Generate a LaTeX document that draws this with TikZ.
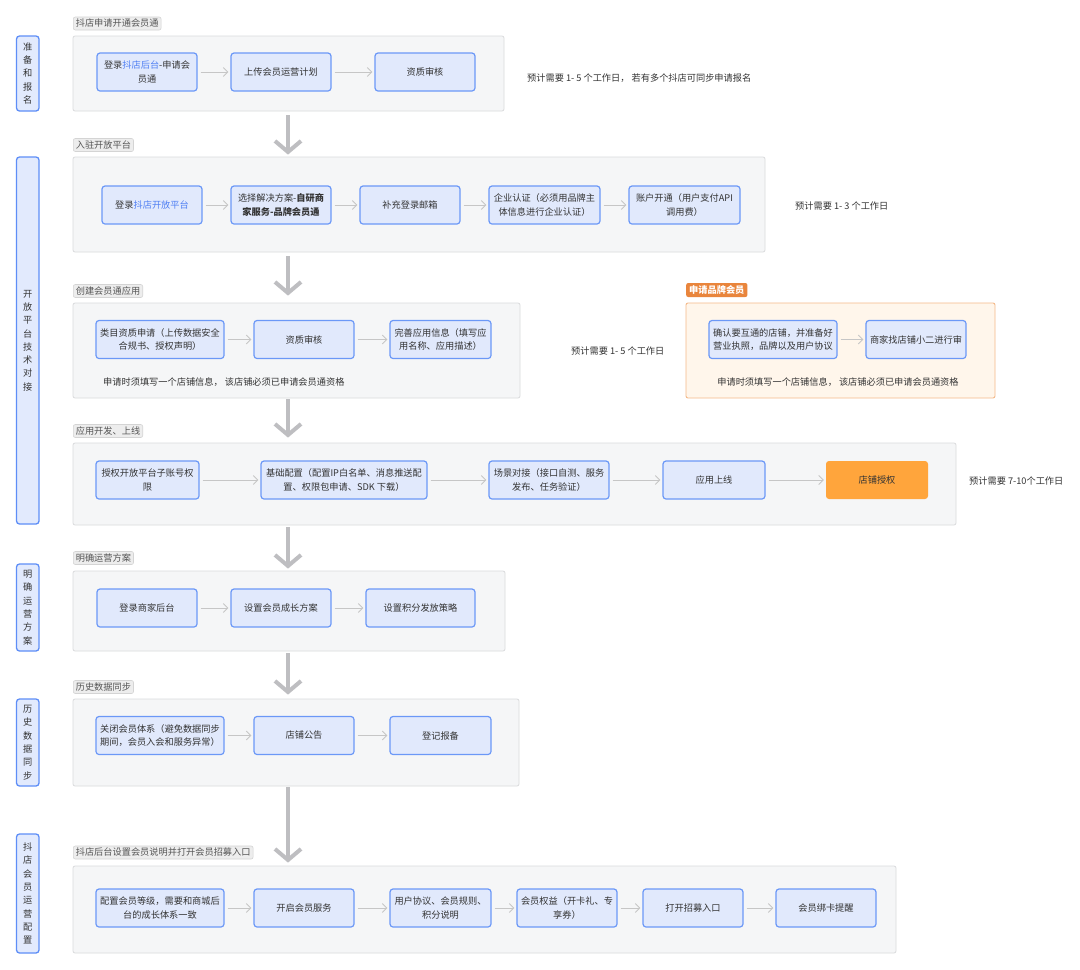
\documentclass[tikz,border=0pt]{standalone}
\usepackage{fontspec}
\setmainfont{Noto Sans CJK SC}
\usetikzlibrary{arrows.meta,calc}
\definecolor{lanefill}{HTML}{E2EAFD}
\definecolor{laneborder}{HTML}{5E8EF7}
\definecolor{ndfill}{HTML}{E1E9FC}
\definecolor{ndborder}{HTML}{6B98F7}
\definecolor{contfill}{HTML}{F5F6F7}
\definecolor{contborder}{HTML}{DADBDD}
\definecolor{tagfill}{HTML}{EDEDED}
\definecolor{tagborder}{HTML}{D4D4D4}
\definecolor{tagtext}{HTML}{555555}
\definecolor{txt}{HTML}{333333}
\definecolor{bluetxt}{HTML}{4F7FF3}
\definecolor{smallarr}{HTML}{C6C6C6}
\definecolor{bigarrc}{HTML}{BEBEC1}
\definecolor{otag}{HTML}{E9853C}
\definecolor{ocfill}{HTML}{FFF6EB}
\definecolor{ocborder}{HTML}{F4BA8A}
\definecolor{onode}{HTML}{FFA53C}
\begin{document}
\begin{tikzpicture}[x=1pt,y=-1pt,
  every node/.style={font=\fontsize{9.2}{13.3}\selectfont, text=txt},
  lanebox/.style={draw=laneborder, fill=lanefill, rounded corners=3pt, line width=1.3pt, minimum width=22.5pt, align=center, inner sep=0pt},
  nd/.style={draw=ndborder, fill=ndfill, rounded corners=3pt, line width=1.2pt, minimum height=38pt, align=center, inner sep=1pt},
  ond/.style={fill=onode, rounded corners=3pt, minimum height=38pt, align=center, inner sep=1pt},
  cont/.style={draw=contborder, fill=contfill, rounded corners=2pt, line width=0.8pt, inner sep=0pt},
  ocont/.style={draw=ocborder, fill=ocfill, rounded corners=2pt, line width=0.9pt, inner sep=0pt},
  tag/.style={draw=tagborder, fill=tagfill, rounded corners=2pt, line width=0.6pt, text=tagtext, inner xsep=2.5pt, inner ysep=0pt, minimum height=13pt, anchor=west},
  otagst/.style={fill=otag, rounded corners=2pt, text=white, inner xsep=3pt, inner ysep=0pt, minimum height=14pt, anchor=west, font=\fontsize{9.2}{13.3}\selectfont\bfseries},
  note/.style={text=txt, inner sep=0pt},
  arr/.style={draw=smallarr, line width=0.9pt, -{Straight Barb[length=4.5pt,width=9pt]}, shorten <=3pt, shorten >=2pt},
  bigarr/.style={draw=bigarrc, line width=4pt, -{Straight Barb[length=11pt,width=26pt]}}
]
\useasboundingbox[fill=white] (0,0) rectangle (1080,970);
\coordinate (ax) at (288,0);

% lanes
\node[lanebox, minimum height=75pt] (L1) at (27.75,73.5) {准\\备\\和\\报\\名};
\node[lanebox, minimum height=367pt] (L2) at (27.75,340.5) {开\\放\\平\\台\\技\\术\\对\\接};
\node[lanebox, minimum height=87pt] (L3) at (27.75,607.5) {明\\确\\运\\营\\方\\案};
\node[lanebox, minimum height=87pt] (L4) at (27.75,742.5) {历\\史\\数\\据\\同\\步};
\node[lanebox, minimum height=119pt] (L5) at (27.75,893.5) {抖\\店\\会\\员\\运\\营\\配\\置};

% containers
\node[cont, minimum width=431pt, minimum height=75pt] (c1) at (288.5,73.5) {};
\node[cont, minimum width=692pt, minimum height=95pt] (c2) at (419,204.5) {};
\node[cont, minimum width=447pt, minimum height=95pt] (c3) at (296.5,350.5) {};
\node[ocont, minimum width=309pt, minimum height=95pt] (oc) at (840.5,350.5) {};
\node[cont, minimum width=883pt, minimum height=82pt] (c4) at (514.5,484) {};
\node[cont, minimum width=432pt, minimum height=80pt] (c5) at (289,611) {};
\node[cont, minimum width=446pt, minimum height=87pt] (c6) at (296,742.5) {};
\node[cont, minimum width=823pt, minimum height=87pt] (c7) at (484.5,909.5) {};

% tags
\node[tag] (t1) at (73,23.5) {抖店申请开通会员通};
\node[tag] (t2) at (73,145) {入驻开放平台};
\node[tag] (t3) at (73,291) {创建会员通应用};
\node[otagst] (ot) at (686,290) {申请品牌会员};
\node[tag] (t4) at (73,431) {应用开发、上线};
\node[tag] (t5) at (73,558) {明确运营方案};
\node[tag] (t6) at (73,687) {历史数据同步};
\node[tag] (t7) at (73,852.5) {抖店后台设置会员说明并打开会员招募入口};

% big arrows
\draw[bigarr] ($(c1.south -| ax)+(0,4)$) -- ($(c2.north -| ax)+(0,-2)$);
\draw[bigarr] ($(c2.south -| ax)+(0,4)$) -- ($(c3.north -| ax)+(0,-7)$);
\draw[bigarr] ($(c3.south -| ax)+(0,1)$) -- ($(c4.north -| ax)+(0,-5)$);
\draw[bigarr] ($(c4.south -| ax)+(0,2)$) -- ($(c5.north -| ax)+(0,-2)$);
\draw[bigarr] ($(c5.south -| ax)+(0,2)$) -- ($(c6.north -| ax)+(0,-4)$);
\draw[bigarr] ($(c6.south -| ax)+(0,1)$) -- ($(c7.north -| ax)+(0,-3)$);

% row 1
\node[nd, minimum width=100pt] (A) at (147,72) {登录{\color{bluetxt}抖店后台}-申请会\\员通};
\node[nd, minimum width=100pt] (B) at (281,72) {上传会员运营计划};
\node[nd, minimum width=100pt] (C) at (425,72) {资质审核};
\draw[arr] (A) -- (B);
\draw[arr] (B) -- (C);
\node[note, anchor=west] (n1) at (527,78) {预计需要 1- 5 个工作日， 若有多个抖店可同步申请报名};

% row 2
\node[nd, minimum width=100pt] (D) at (152,205) {登录{\color{bluetxt}抖店开放平台}};
\node[nd, minimum width=100pt] (E) at (281,205) {选择解决方案-\textbf{自研商}\\\textbf{家服务-品牌会员通}};
\node[nd, minimum width=100pt] (F) at (410,205) {补充登录邮箱};
\node[nd, minimum width=111pt] (G) at (544.5,205) {企业认证（必须用品牌主\\体信息进行企业认证）};
\node[nd, minimum width=111pt] (H) at (684.5,205) {账户开通（用户支付API\\调用费）};
\draw[arr] (D) -- (E);
\draw[arr] (E) -- (F);
\draw[arr] (F) -- (G);
\draw[arr] (G) -- (H);
\node[note, anchor=west] (n2) at (795,206) {预计需要 1- 3 个工作日};

% row 3
\node[nd, minimum width=128pt] (K) at (160,339.5) {类目资质申请（上传数据安全\\合规书、授权声明）};
\node[nd, minimum width=100pt] (Lq) at (304,339.5) {资质审核};
\node[nd, minimum width=101pt] (M) at (440.5,339.5) {完善应用信息（填写应\\用名称、应用描述）};
\draw[arr] (K) -- (Lq);
\draw[arr] (Lq) -- (M);
\node[note, anchor=west] (n3a) at (103,382) {申请时须填写一个店铺信息， 该店铺必须已申请会员通资格};
\node[note, anchor=west] (n3) at (571,351) {预计需要 1- 5 个工作日};

\node[nd, minimum width=128pt] (I) at (773,339.5) {确认要互通的店铺，并准备好\\营业执照，品牌以及用户协议};
\node[nd, minimum width=100pt] (J) at (916,339.5) {商家找店铺小二进行审};
\draw[arr] (I) -- (J);
\node[note] (on) at (838,382) {申请时须填写一个店铺信息， 该店铺必须已申请会员通资格};

% row 4
\node[nd, minimum width=103pt] (N) at (147.5,480) {授权开放平台子账号权\\限};
\node[nd, minimum width=166pt] (O) at (344,480) {基础配置（配置IP白名单、消息推送配\\置、权限包申请、SDK 下载）};
\node[nd, minimum width=120pt] (P) at (549,480) {场景对接（接口自测、服务\\发布、任务验证）};
\node[nd, minimum width=102pt] (Q) at (714,480) {应用上线};
\node[ond, minimum width=102pt] (R) at (877,480) {店铺授权};
\draw[arr] (N) -- (O);
\draw[arr] (O) -- (P);
\draw[arr] (P) -- (Q);
\draw[arr] (Q) -- (R);
\node[note, anchor=west] (n4) at (969,481) {预计需要 7-10个工作日};

% row 5
\node[nd, minimum width=100pt] (S) at (147,608) {登录商家后台};
\node[nd, minimum width=100pt] (T) at (281,608) {设置会员成长方案};
\node[nd, minimum width=109pt] (U) at (420.5,608) {设置积分发放策略};
\draw[arr] (S) -- (T);
\draw[arr] (T) -- (U);

% row 6
\node[nd, minimum width=128pt] (V) at (160,735.5) {关闭会员体系（避免数据同步\\期间，会员入会和服务异常）};
\node[nd, minimum width=100pt] (W) at (304,735.5) {店铺公告};
\node[nd, minimum width=101pt] (X) at (440.5,735.5) {登记报备};
\draw[arr] (V) -- (W);
\draw[arr] (W) -- (X);

% row 7
\node[nd, minimum width=128pt] (Y) at (160,908) {配置会员等级，需要和商城后\\台的成长体系一致};
\node[nd, minimum width=100pt] (Z) at (304,908) {开启会员服务};
\node[nd, minimum width=101pt] (AA) at (440.5,908) {用户协议、会员规则、\\积分说明};
\node[nd, minimum width=100pt] (BB) at (567,908) {会员权益（开卡礼、专\\享券）};
\node[nd, minimum width=100pt] (CC) at (693,908) {打开招募入口};
\node[nd, minimum width=100pt] (DD) at (826,908) {会员绑卡提醒};
\draw[arr] (Y) -- (Z);
\draw[arr] (Z) -- (AA);
\draw[arr] (AA) -- (BB);
\draw[arr] (BB) -- (CC);
\draw[arr] (CC) -- (DD);
\end{tikzpicture}
\end{document}
